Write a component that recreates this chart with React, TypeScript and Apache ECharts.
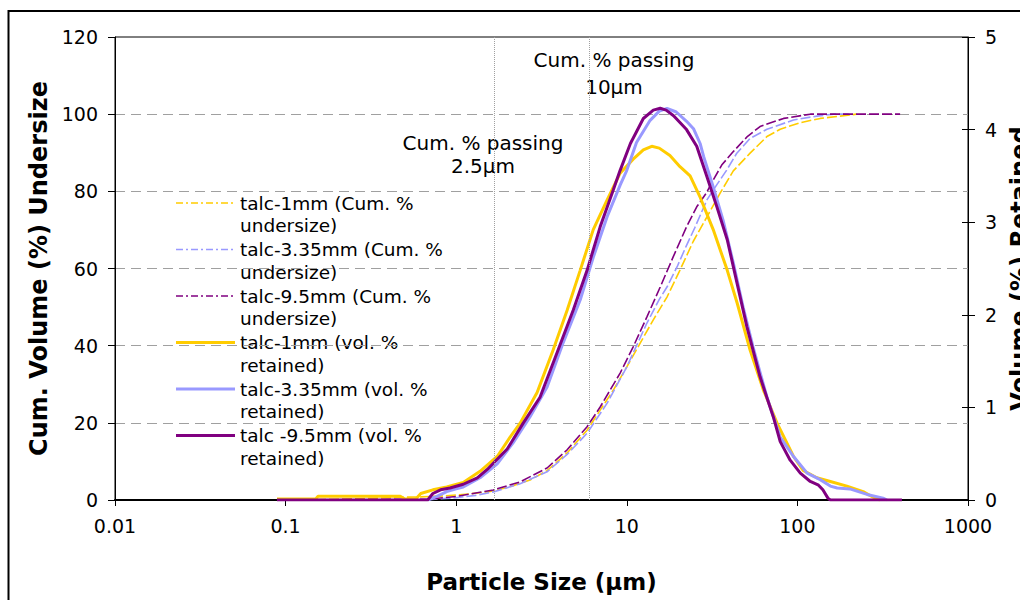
import React, { useEffect, useRef } from "react";
import * as echarts from "echarts";

// ---------- data ----------
// Particle size (µm) vs cumulative volume % undersize (left axis)
const cum1mm: [number, number][] = [
  [0.089, 0], [0.15, 0.1], [0.3, 0.4], [0.47, 0.7], [0.62, 0.8], [0.8, 1.0], [1.0, 1.3],
  [1.21, 1.6], [1.58, 2.2], [2.07, 3.4], [2.71, 5.2], [3.41, 7.6], [4.47, 12.2], [5.85, 18.1],
  [6.98, 23.3], [8.34, 28.5], [10, 34.5], [12, 40.7], [14.3, 46.7], [17.2, 52.6], [20.5, 59.6],
  [24.5, 67.0], [29.5, 73.4], [35.3, 79.6], [42.1, 85.3], [52.8, 89.9], [66.3, 94.2],
  [79.3, 96.1], [104, 97.8], [136, 98.9], [178, 99.5], [222, 100],
];
const cum335mm: [number, number][] = [
  [0.68, 0], [0.8, 0.3], [1.0, 0.6], [1.3, 1.2], [1.65, 2.1], [2.37, 4.2], [3.41, 7.3],
  [4.47, 11.8], [5.85, 17.3], [7.67, 25.1], [10, 34.5], [13.1, 45.8], [15.5, 52.0],
  [17.2, 55.2], [19.7, 60.4], [22.4, 66.0], [25.0, 70.5], [29.5, 77.8], [33.8, 81.8],
  [38.5, 85.5], [44.0, 89.8], [52.8, 93.7], [66.3, 96.1], [94.9, 98.5], [130, 99.5],
  [163, 100], [200, 100],
];
const cum95mm: [number, number][] = [
  [0.089, 0], [0.68, 0.2], [1.0, 0.9], [1.65, 2.6], [2.37, 4.7], [3.41, 8.3], [4.47, 13.0],
  [5.85, 19.0], [6.98, 24.1], [9.14, 32.9], [10.9, 39.7], [13.1, 47.4], [15.7, 55.2],
  [18.7, 63.0], [22.4, 70.8], [25.7, 76.0], [29.2, 79.5], [32.1, 82.9], [36.0, 86.8],
  [42.1, 90.3], [50.6, 94.1], [60.4, 96.8], [83, 98.9], [119, 100], [400, 100],
];

// Particle size (µm) vs volume % retained (right axis)
const vol1mm: [number, number][] = [
  [0.089, 0.01], [0.15, 0.01], [0.155, 0.04], [0.47, 0.04], [0.5, 0.01], [0.58, 0.01],
  [0.62, 0.07], [0.73, 0.11], [0.88, 0.14], [1.1, 0.19], [1.38, 0.31], [1.74, 0.47],
  [2.07, 0.68], [2.37, 0.83], [2.98, 1.16], [3.7, 1.62], [4.47, 2.05], [5.33, 2.48],
  [6.36, 2.92], [7.67, 3.24], [9.14, 3.53], [10.9, 3.68], [12.5, 3.78], [14.0, 3.82],
  [15.5, 3.8], [17.9, 3.72], [20.5, 3.6], [23.5, 3.5], [26.9, 3.27], [32.1, 2.92],
  [38.8, 2.48], [44.3, 2.13], [52.8, 1.62], [63.1, 1.19], [76, 0.83], [94.9, 0.47],
  [108, 0.32], [130, 0.24], [156, 0.2], [195, 0.15], [243, 0.09], [278, 0.03], [305, 0],
];
const vol335mm: [number, number][] = [
  [0.68, 0], [0.77, 0.04], [0.88, 0.09], [1.0, 0.12], [1.1, 0.14], [1.38, 0.24],
  [1.74, 0.39], [2.16, 0.62], [2.71, 0.9], [3.41, 1.22], [4.24, 1.7], [5.33, 2.16],
  [6.36, 2.62], [7.67, 3.06], [9.14, 3.4], [10.0, 3.56], [11.4, 3.86], [13.7, 4.1],
  [15.5, 4.2], [17.2, 4.23], [19.5, 4.19], [22.4, 4.09], [24.6, 4.01], [26.9, 3.85],
  [28.2, 3.71], [32.1, 3.38], [36.7, 3.02], [42.1, 2.56], [48.1, 2.08], [55, 1.65],
  [66.3, 1.11], [79.3, 0.68], [94.9, 0.47], [114, 0.29], [136, 0.22], [156, 0.15],
  [171, 0.13], [203, 0.12], [256, 0.06], [318, 0.02], [335, 0],
];
const vol95mm: [number, number][] = [
  [0.089, 0], [0.68, 0], [0.73, 0.07], [0.81, 0.11], [0.92, 0.13], [1.1, 0.17],
  [1.33, 0.24], [1.52, 0.33], [1.99, 0.55], [2.47, 0.83], [3.1, 1.11], [3.9, 1.59],
  [4.85, 2.05], [5.85, 2.48], [6.98, 2.95], [8.34, 3.35], [9.14, 3.56], [10.5, 3.85],
  [12.5, 4.12], [14.3, 4.21], [15.7, 4.23], [17.0, 4.21], [18.8, 4.15], [22.4, 4.0],
  [25.7, 3.82], [29.5, 3.49], [33.8, 3.16], [38.8, 2.81], [44.3, 2.34], [50.6, 1.87],
  [60.4, 1.33], [72.2, 0.9], [79.3, 0.63], [90.7, 0.43], [104, 0.29], [119, 0.2],
  [133, 0.16], [141, 0.11], [151, 0.02], [156, 0], [410, 0],
];

// Vertical reference lines ("Cum. % passing ...")
const passingLines = [1.68, 6.02];

// Axis ticks
const leftTicks = { min: 0, max: 120, interval: 20 };
const rightTicks = { min: 0, max: 5, interval: 1 };
const xRange = { min: 0.01, max: 1000 };

const seriesNames = [
  "talc-1mm (Cum. % undersize)",
  "talc-3.35mm (Cum. % undersize)",
  "talc-9.5mm (Cum. % undersize)",
  "talc-1mm (vol. % retained)",
  "talc-3.35mm (vol. % retained)",
  "talc -9.5mm (vol. % retained)",
];
const seriesData = [cum1mm, cum335mm, cum95mm, vol1mm, vol335mm, vol95mm];
const seriesColors = ["#FFCC00", "#9999FF", "#800080", "#FFCC00", "#9999FF", "#800080"];

const FONT = "DejaVu Sans, Verdana, sans-serif";

export default function App() {
  const ref = useRef<HTMLDivElement>(null);

  useEffect(() => {
    if (!ref.current) return;
    const chart = echarts.init(ref.current, undefined, { renderer: "svg" });

    const series: any[] = seriesData.map((data, i) => {
      const isCum = i < 3;
      const s: any = {
        name: seriesNames[i],
        type: "line",
        yAxisIndex: isCum ? 0 : 1,
        data,
        showSymbol: false,
        symbol: "none",
        smooth: false,
        lineStyle: isCum
          ? { color: seriesColors[i], width: 1.6, type: [10, 3] }
          : { color: seriesColors[i], width: 3, type: "solid" },
        itemStyle: { color: seriesColors[i] },
        z: isCum ? 2 : 3,
      };
      if (i === 0) {
        s.markLine = {
          silent: true,
          symbol: ["none", "none"],
          label: { show: false },
          lineStyle: { color: "#a0a0a0", type: "dotted", width: 1 },
          data: passingLines.map((v) => ({ xAxis: v })),
        };
      }
      return s;
    });

    // legend drawn as graphics (two-line labels, icon on first line)
    const legendTop = 203;
    const legendStep = 46.5;
    const legendItems: any[] = [];
    seriesNames.forEach((name, i) => {
      const y = legendTop + i * legendStep;
      const isCum = i < 3;
      const split = name.replace(" (Cum. %", " (Cum. %\n").replace(" (vol. %", " (vol. %\n").split("\n");
      legendItems.push({
        type: "line",
        shape: { x1: 176, y1: y, x2: 235, y2: y },
        style: {
          stroke: seriesColors[i],
          lineWidth: isCum ? 1.6 : 3,
          lineDash: isCum ? [7, 3, 2, 3] : null,
        },
      });
      legendItems.push({
        type: "text",
        x: 240,
        y: y - 11,
        style: {
          text: split[0] + "\n" + split[1].trim(),
          fill: "#000",
          font: `18.5px ${FONT}`,
          lineHeight: 22.5,
          textAlign: "left",
          textVerticalAlign: "top",
        },
      });
    });

    const titleStyle = (size: number) => ({
      fontSize: size,
      fontWeight: "bold",
      color: "#000",
      fontFamily: FONT,
    });

    chart.setOption({
      animation: false,
      textStyle: { fontFamily: FONT },
      grid: {
        left: 115,
        right: 52,
        top: 37,
        bottom: 100,
        outerBoundsMode: "none",
        containLabel: false,
        show: true,
        borderColor: "#000",
        borderWidth: 1,
        backgroundColor: "transparent",
      },
      xAxis: {
        type: "log",
        logBase: 10,
        min: xRange.min,
        max: xRange.max,
        name: "Particle Size (µm)",
        nameLocation: "middle",
        nameGap: 70,
        nameTextStyle: titleStyle(23),
        axisLine: { show: true, onZero: false, lineStyle: { color: "#000", width: 2 } },
        axisTick: { show: true, length: 6, lineStyle: { color: "#000", width: 1 } },
        minorTick: { show: false },
        axisLabel: {
          color: "#000",
          fontSize: 19,
          fontFamily: FONT,
          margin: 16,
          formatter: (v: number) => String(parseFloat(Number(v).toPrecision(3))),
        },
        splitLine: { show: false },
      },
      yAxis: [
        {
          type: "value",
          min: leftTicks.min,
          max: leftTicks.max,
          interval: leftTicks.interval,
          position: "left",
          name: "Cum. Volume (%) Undersize",
          nameLocation: "middle",
          nameRotate: 90,
          nameGap: 62,
          nameTextStyle: titleStyle(24),
          axisLine: { show: true, lineStyle: { color: "#000", width: 1 } },
          axisTick: { show: true, length: 7, lineStyle: { color: "#000" } },
          axisLabel: { color: "#000", fontSize: 19, fontFamily: FONT, margin: 17 },
          splitLine: {
            show: true,
            showMinLine: false,
            showMaxLine: false,
            lineStyle: { color: "#a0a0a0", type: [10, 6], width: 1 },
          },
        },
        {
          type: "value",
          min: rightTicks.min,
          max: rightTicks.max,
          interval: rightTicks.interval,
          position: "right",
          name: "Volume (%) Retained",
          nameLocation: "middle",
          nameRotate: 90,
          nameGap: 37,
          nameTextStyle: titleStyle(24),
          axisLine: { show: true, lineStyle: { color: "#000", width: 1 } },
          axisTick: { show: true, length: 7, lineStyle: { color: "#000" } },
          axisLabel: { color: "#000", fontSize: 19, fontFamily: FONT, margin: 17 },
          splitLine: { show: false },
        },
        {
          // inner half of the right axis' crossing tick marks
          type: "value",
          min: rightTicks.min,
          max: rightTicks.max,
          interval: rightTicks.interval,
          position: "right",
          axisLine: { show: false },
          axisTick: { show: true, inside: true, length: 6, lineStyle: { color: "#000" } },
          axisLabel: { show: false },
          splitLine: { show: false },
        },
      ],
      series,
      graphic: [
        {
          type: "rect",
          shape: { x: 8.5, y: 11, width: 1300, height: 900 },
          style: { fill: "none", stroke: "#000", lineWidth: 2 },
          silent: true,
        },
        {
          type: "text",
          x: 614,
          y: 60 - 13.5,
          style: {
            text: "Cum. % passing\n10µm",
            fill: "#000",
            font: `20px ${FONT}`,
            lineHeight: 27,
            textAlign: "center",
            textVerticalAlign: "top",
          },
        },
        {
          type: "text",
          x: 483,
          y: 143 - 11.5,
          style: {
            text: "Cum. % passing\n2.5µm",
            fill: "#000",
            font: `20px ${FONT}`,
            lineHeight: 23,
            textAlign: "center",
            textVerticalAlign: "top",
          },
        },
        ...legendItems,
      ],
    });

    return () => chart.dispose();
  }, []);

  return (
    <div
      ref={ref}
      style={{ position: "fixed", left: 0, top: 0, width: 1020, height: 600, background: "#fff" }}
    />
  );
}
